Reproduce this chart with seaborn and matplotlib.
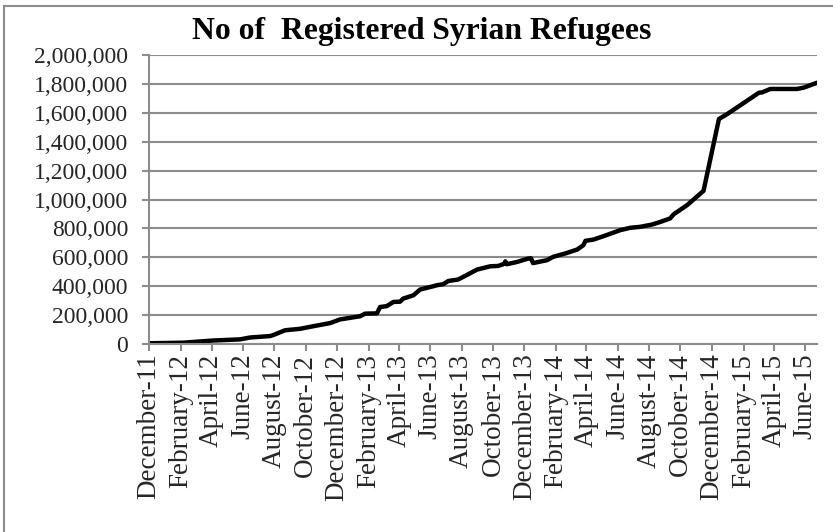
import matplotlib
matplotlib.use("Agg")
import matplotlib.pyplot as plt
import matplotlib.dates as mdates
import matplotlib.ticker as mticker
from matplotlib.patches import Rectangle
import seaborn as sns
import pandas as pd

dates = [
    "2011-12-01", "2012-02-05", "2012-04-04", "2012-05-26", "2012-06-15",
    "2012-07-24", "2012-07-30", "2012-08-22", "2012-09-20", "2012-10-16",
    "2012-11-18", "2012-12-07", "2013-01-15", "2013-01-25", "2013-02-17",
    "2013-02-23", "2013-03-08", "2013-03-21", "2013-04-03", "2013-04-09",
    "2013-04-29", "2013-05-12", "2013-06-07", "2013-06-14", "2013-06-26",
    "2013-07-06", "2013-07-25", "2013-08-31", "2013-09-26", "2013-10-11",
    "2013-10-24", "2013-10-25", "2013-10-28", "2013-11-17", "2013-12-09",
    "2013-12-14", "2013-12-18", "2014-01-14", "2014-01-26", "2014-02-22",
    "2014-03-14", "2014-03-26", "2014-03-30", "2014-04-15", "2014-05-04",
    "2014-06-06", "2014-06-25", "2014-07-15", "2014-08-07", "2014-08-23",
    "2014-09-11", "2014-09-18", "2014-10-14", "2014-11-15", "2014-12-15",
    "2014-12-31", "2015-03-03", "2015-03-09", "2015-03-25", "2015-05-16",
    "2015-05-29", "2015-06-24",
]
refugees = [
    5000, 9000, 24000, 32000, 45000,
    55000, 62000, 95000, 105000, 123000,
    145000, 170000, 192000, 210000, 212000,
    256000, 262000, 291000, 293000, 314000,
    337000, 377000, 400000, 407000, 414000,
    436000, 446000, 515000, 538000, 540000,
    556000, 572000, 552000, 568000, 592000,
    593000, 560000, 580000, 603000, 630000,
    654000, 684000, 714000, 723000, 746000,
    788000, 804000, 811000, 827000, 845000,
    869000, 898000, 961000, 1060000, 1557000,
    1591000, 1739000, 1741000, 1765000, 1765000,
    1774000, 1808000,
]
title = "No of  Registered Syrian Refugees"

df = pd.DataFrame({"date": pd.to_datetime(dates), "refugees": refugees})

sns.set_theme(style="white")
plt.rcParams["font.family"] = ["Liberation Serif", "DejaVu Serif"]

fig = plt.figure(figsize=(8.33, 5.32), dpi=100)
ax = fig.add_axes([149 / 833, 1 - 344 / 532, (817 - 149) / 833, (344 - 55) / 532])

sns.lineplot(data=df, x="date", y="refugees", ax=ax, color="black", linewidth=3.2)

gray = "#8c8c8c"
ax.set_ylim(0, 2000000)
ax.yaxis.set_major_locator(mticker.MultipleLocator(200000))
ax.yaxis.set_major_formatter(mticker.FuncFormatter(lambda v, p: f"{int(v):,}"))
ax.set_xlim(pd.Timestamp("2011-12-01"), pd.Timestamp("2015-06-24"))
ax.xaxis.set_major_locator(mdates.MonthLocator(bymonth=[2, 4, 6, 8, 10, 12]))
ax.xaxis.set_major_formatter(mdates.DateFormatter("%B-%y"))

ax.grid(axis="y", color=gray, linewidth=1.5)
ax.set_axisbelow(True)
for side in ["top", "right"]:
    ax.spines[side].set_visible(False)
for side in ["left", "bottom"]:
    ax.spines[side].set_color(gray)
    ax.spines[side].set_linewidth(1.5)

ax.tick_params(axis="both", which="major", direction="out", length=5, width=1.5,
               color=gray)
ax.tick_params(axis="x", bottom=True, labelrotation=90, labelsize=19.5, pad=2)
ax.tick_params(axis="y", left=True, labelsize=17, pad=10)
ax.set_xlabel("")
ax.set_ylabel("")

fig.text(422 / 833, 1 - 32 / 532, title, ha="center", va="center",
         fontsize=22.8, fontweight="bold", color="black")

border = Rectangle((4 / 833, -0.1), 1.2, 1 - 6 / 532 + 0.1, transform=fig.transFigure,
                   fill=False, edgecolor=gray, linewidth=1.5, clip_on=False)
fig.add_artist(border)

fig.savefig("out.png", dpi=100)
